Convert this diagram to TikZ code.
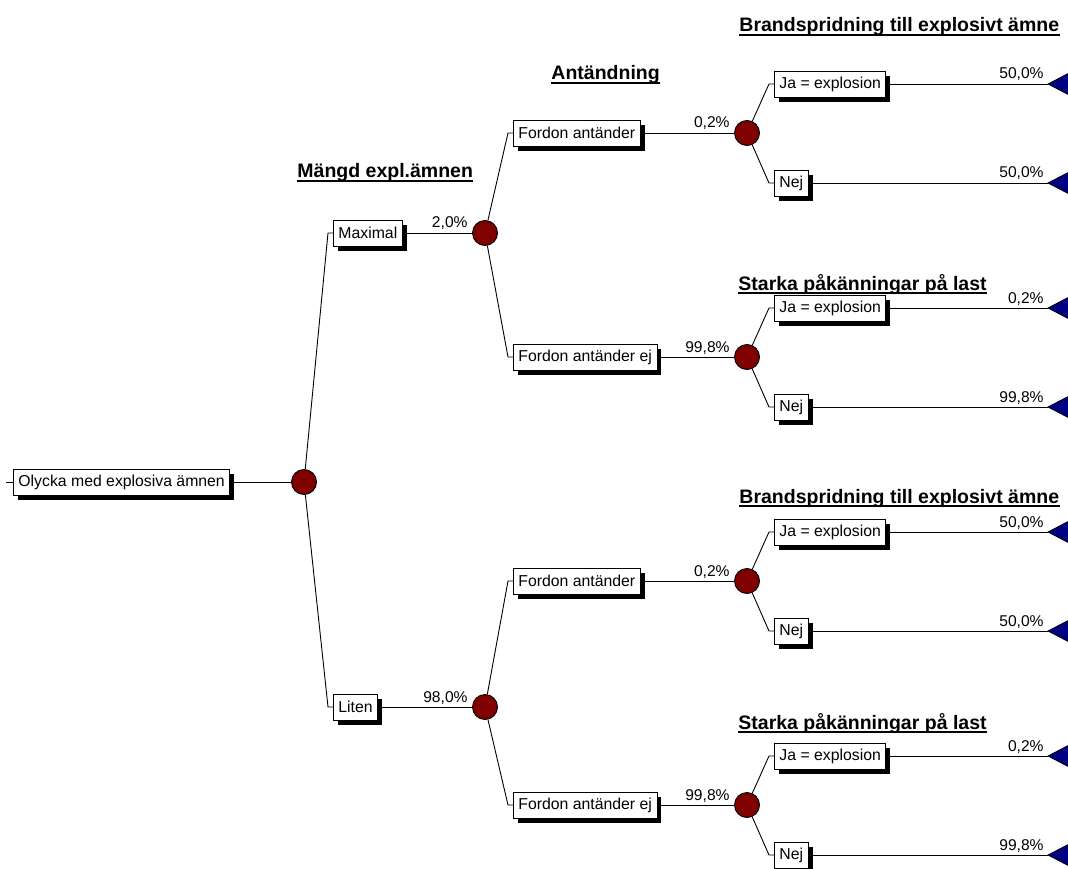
\documentclass[tikz,border=0pt]{standalone}
\usepackage{fontspec}
\setmainfont{Liberation Sans}
\usetikzlibrary{shadows}
\definecolor{chancered}{HTML}{800000}
\definecolor{endblue}{HTML}{000080}
\begin{document}
\begin{tikzpicture}[x=1pt,y=-1pt,line width=0.9pt,
  lbl/.style={draw=black,fill=white,line width=0.9pt,anchor=west,
    font=\fontsize{15.8}{18}\selectfont,inner xsep=5pt,inner ysep=0pt,
    minimum height=26pt,
    drop shadow={shadow xshift=4.5pt,shadow yshift=-5pt,fill=black,opacity=1}},
  chance/.style={circle,draw=black,fill=chancered,line width=0.9pt,minimum size=25pt,inner sep=0pt},
  pct/.style={anchor=base east,inner sep=0pt,font=\fontsize{15.6}{18}\selectfont},
  hdr/.style={anchor=base west,inner sep=0pt,font=\fontsize{19.5}{22}\selectfont\bfseries},
  uline/.style={line width=1.6pt},
  endtri/.style={fill=endblue,draw=black,line width=0.8pt}]
\useasboundingbox (0,0) rectangle (1068,869);
\clip (0,0) rectangle (1068,869);

% headers
\node[hdr] (h0) at (297,178) {Mängd expl.ämnen};
\node[hdr] (h1) at (551,80) {Antändning};
\node[hdr] (h2) at (739,32) {Brandspridning till explosivt ämne};
\node[hdr] (h3) at (738,290) {Starka påkänningar på last};
\node[hdr] (h4) at (739,503) {Brandspridning till explosivt ämne};
\node[hdr] (h5) at (738,729) {Starka påkänningar på last};
\foreach \h in {h0,h1,h2,h3,h4,h5}
  \draw[uline] ([yshift=-3pt]\h.base west) -- ([yshift=-3pt]\h.base east);

% root
\node[lbl] (root) at (13,482) {Olycka med explosiva ämnen};
\coordinate (rootin) at (6,482);
\draw (rootin) -- (root.west);
\node[chance] (c0) at (304,482) {};
\draw (root.east) -- (c0);

% level 2
\node[lbl] (max) at (333,233) {Maximal};
\coordinate (maxin) at (328,233);
\node[lbl] (lit) at (333,707) {Liten};
\coordinate (litin) at (328,707);
\draw (c0) -- (maxin) -- (max.west);
\draw (c0) -- (litin) -- (lit.west);
\node[chance] (c1) at (485,233) {};
\node[chance] (c2) at (485,707) {};
\draw (max.east) -- (c1);
\draw (lit.east) -- (c2);
\node[pct] (p1) at (468,228) {2,0\%};
\node[pct] (p2) at (468,702) {98,0\%};

% level 3
\foreach \pn/\cy/\txt/\n/\p in {c1/133/{Fordon antänder}/c11/{0,2\%},
    c1/357/{Fordon antänder ej}/c12/{99,8\%},
    c2/581/{Fordon antänder}/c21/{0,2\%},
    c2/805/{Fordon antänder ej}/c22/{99,8\%}} {
  \node[lbl] (\n-b) at (513,\cy) {\txt};
  \coordinate (\n-in) at (508,\cy);
  \draw (\pn) -- (\n-in) -- (\n-b.west);
  \node[chance] (\n) at (747,\cy) {};
  \draw (\n-b.east) -- (\n);
  \node[pct] (\n-p) at (730,\cy-5) {\p};
}

% level 4
\foreach \g/\cy/\pa/\pb in {c11/133/{50,0\%}/{50,0\%},
    c12/357/{0,2\%}/{99,8\%},
    c21/581/{50,0\%}/{50,0\%},
    c22/805/{0,2\%}/{99,8\%}} {
  \node[lbl] (\g-ja) at (774,\cy-49) {Ja = explosion};
  \coordinate (\g-jain) at (769,\cy-49);
  \node[lbl] (\g-nej) at (774,\cy+50) {Nej};
  \coordinate (\g-nejin) at (769,\cy+50);
  \draw (\g) -- (\g-jain) -- (\g-ja.west);
  \draw (\g) -- (\g-nejin) -- (\g-nej.west);
  \coordinate (\g-jat) at (1048,\cy-49);
  \coordinate (\g-nejt) at (1048,\cy+50);
  \draw (\g-ja.east) -- (\g-jat);
  \draw (\g-nej.east) -- (\g-nejt);
  \filldraw[endtri] (\g-jat) -- ++(25,-13) -- ++(0,26) -- cycle;
  \filldraw[endtri] (\g-nejt) -- ++(25,-13) -- ++(0,26) -- cycle;
  \node[pct] (\g-pa) at (1044,\cy-54) {\pa};
  \node[pct] (\g-pb) at (1044,\cy+45) {\pb};
}
\end{tikzpicture}
\end{document}
